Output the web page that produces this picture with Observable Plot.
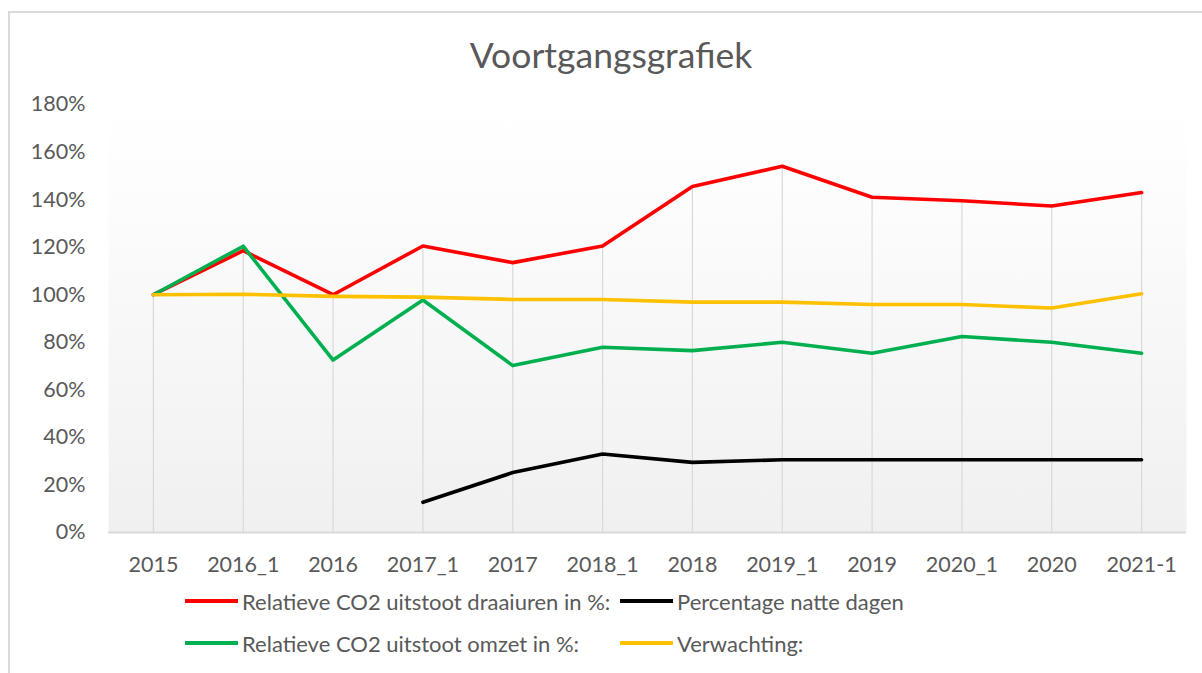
<!DOCTYPE html>
<html>
<head>
<meta charset="utf-8">
<script src="https://cdn.jsdelivr.net/npm/d3@7"></script>
<script src="https://cdn.jsdelivr.net/npm/@observablehq/plot@0.6"></script>
<style>
  body { margin: 0; background: #fff; }
  #chart { position: relative; width: 1202px; height: 673px; overflow: hidden; font-family: Lato, "Open Sans", sans-serif; color: #595959; }
  #border { position: absolute; left: 8px; top: 11px; width: 1220px; height: 700px; border: 2px solid #d9d9d9; box-sizing: border-box; }
  #title { position: absolute; left: 20px; top: 33px; width: 1182px; text-align: center; font-size: 35.5px; line-height: normal; color: #595959; }
  #plot { position: absolute; left: 0; top: 80px; }
  .leg { position: absolute; display: flex; align-items: center; font-size: 22px; color: #595959; white-space: nowrap; }
  .leg .sw { display: inline-block; width: 53px; height: 4px; margin-right: 4px; }
</style>
</head>
<body>
<div id="chart">
  <div id="border"></div>
  <div id="title">Voortgangsgrafiek</div>
  <div id="plot"></div>
  <div id="legend"></div>
</div>
<script>
// ---- data ----
const categories = ["2015", "2016_1", "2016", "2017_1", "2017", "2018_1", "2018", "2019_1", "2019", "2020_1", "2020", "2021-1"];
const draaiuren   = [100, 118.5, 100, 120.5, 113.5, 120.5, 145.5, 154, 141, 139.5, 137.3, 143];
const natteDagen  = [null, null, null, 12.7, 25.2, 33, 29.5, 30.6, 30.6, 30.6, 30.6, 30.6];
const omzet       = [100, 120.4, 72.5, 97.8, 70.2, 77.9, 76.5, 80, 75.4, 82.4, 80, 75.4];
const verwachting = [100, 100.2, 99.3, 99, 98, 98, 96.9, 96.9, 95.9, 95.9, 94.4, 100.4];
const yTicks = [0, 20, 40, 60, 80, 100, 120, 140, 160, 180];
const seriesNames  = ["Relatieve CO2 uitstoot draaiuren in %:", "Percentage natte dagen", "Relatieve CO2 uitstoot omzet in %:", "Verwachting:"];
const seriesColors = ["#ff0000", "#000000", "#00b050", "#ffc000"];

const seriesValues = [draaiuren, natteDagen, omzet, verwachting];
const series = seriesNames.map((name, k) => ({
  name, color: seriesColors[k],
  rows: categories.map((cat, i) => ({cat, value: seriesValues[k][i]}))
}));

// drop lines: from 0 to the highest series value at each category
const drops = categories.map((cat, i) => ({
  cat, top: d3.max(seriesValues, v => v[i])
}));

const svg = Plot.plot({
  width: 1202,
  height: 510,
  marginTop: 24,
  marginBottom: 58,
  marginLeft: 108,
  marginRight: 16,
  style: {background: "transparent", fontFamily: "Lato, 'Open Sans', sans-serif", fontSize: "21.5px", color: "#595959", overflow: "visible"},
  x: {type: "point", domain: categories, padding: 0.5, round: false, label: null, tickSize: 0, tickPadding: 24},
  y: {domain: [0, 180], ticks: yTicks, tickFormat: d => d + "%", label: null, tickSize: 0, tickPadding: 23},
  marks: [
    Plot.frame({fill: "url(#plotbg)", stroke: "none"}),
    Plot.ruleX(drops, {x: "cat", y1: 0, y2: "top", stroke: "#d9d9d9", strokeWidth: 1.2}),
    Plot.ruleY([0], {stroke: "#d9d9d9", strokeWidth: 2}),
    ...series.map(s => Plot.line(s.rows, {x: "cat", y: "value", stroke: s.color, strokeWidth: 3.6, strokeLinejoin: "round", strokeLinecap: "round"}))
  ]
});
svg.insertAdjacentHTML("afterbegin",
  '<defs><linearGradient id="plotbg" x1="0" y1="0" x2="0" y2="1">' +
  '<stop offset="0" stop-color="#ffffff"/><stop offset="0.18" stop-color="#fdfdfd"/>' +
  '<stop offset="1" stop-color="#f0f0f0"/></linearGradient></defs>');
document.getElementById("plot").appendChild(svg);

// ---- legend ----
const legend = document.getElementById("legend");
const legPos = [[185, 601], [620, 601], [185, 643], [620, 643]];
series.forEach((s, k) => {
  const d = document.createElement("div");
  d.className = "leg";
  d.style.left = legPos[k][0] + "px";
  d.style.top = (legPos[k][1] - 13) + "px";
  d.style.height = "26px";
  d.innerHTML = `<span class="sw" style="background:${s.color}"></span><span>${s.name}</span>`;
  legend.appendChild(d);
});
</script>
</body>
</html>
